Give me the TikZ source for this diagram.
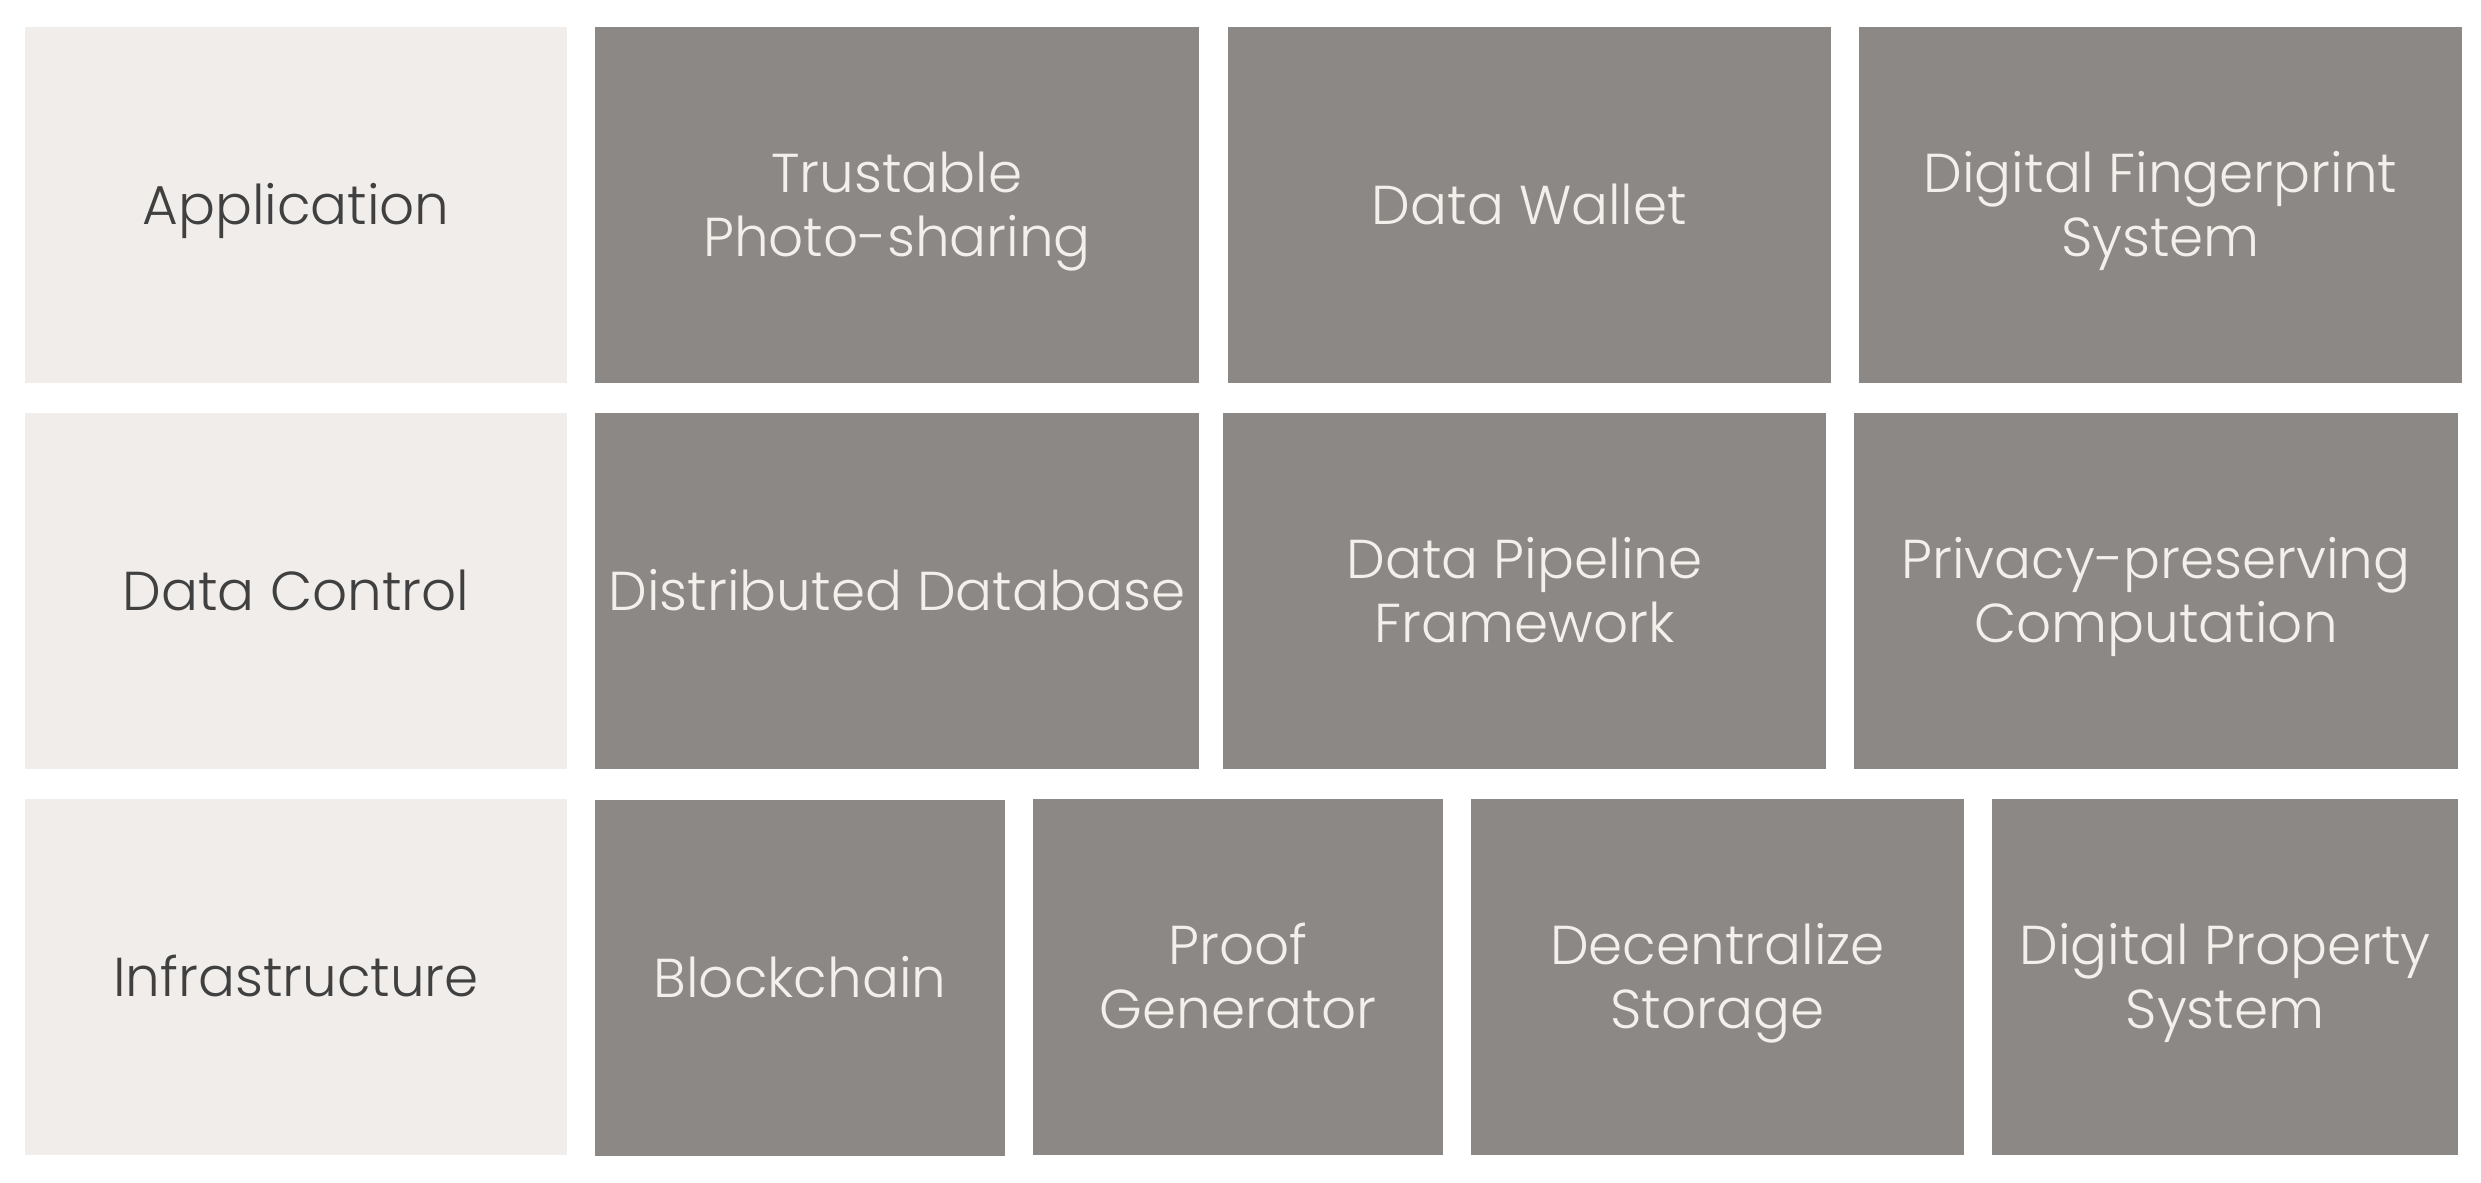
\documentclass[tikz,border=0pt]{standalone}
\usepackage{fontspec}
\setmainfont{Poppins}[UprightFont=* Light]
\definecolor{lightbox}{HTML}{F0EDEA}
\definecolor{darkbox}{HTML}{8C8885}
\definecolor{darktext}{HTML}{404040}
\definecolor{lighttext}{HTML}{F3EFEB}
\tikzset{
  base/.style={rectangle, inner sep=0pt, outer sep=0pt, font=\fontsize{13.7}{16}\selectfont},
  layerbox/.style={base, fill=lightbox, text=darktext},
  compbox/.style={base, fill=darkbox, text=lighttext},
}
\newcommand\blk[7]{%
  \node[#6, minimum width={(#4-#2)*0.25pt}, minimum height={(#5-#3)*0.25pt}]
    (#1) at ({(#2+#4)/2},{(#3+#5)/2})
    {\raisebox{-1.6pt}[\height][\depth]{\begin{tabular}{@{}c@{}}#7\end{tabular}}};}
\begin{document}
\begin{tikzpicture}[x=0.25pt,y=-0.25pt]
\fill[white] (0,0) rectangle (2481,1182);
\useasboundingbox (0,0) rectangle (2481,1182);
% row 1
\blk{app}{25}{27}{567}{383}{layerbox}{Application}
\blk{photo}{595}{27}{1199}{383}{compbox}{Trustable\\Photo-sharing}
\blk{wallet}{1228}{27}{1831}{383}{compbox}{Data Wallet}
\blk{finger}{1859}{27}{2462}{383}{compbox}{Digital Fingerprint\\System}
% row 2
\blk{ctrl}{25}{413}{567}{769}{layerbox}{Data Control}
\blk{ddb}{595}{413}{1199}{769}{compbox}{Distributed Database}
\blk{pipe}{1223}{413}{1826}{769}{compbox}{Data Pipeline\\Framework}
\blk{priv}{1854}{413}{2458}{769}{compbox}{Privacy-preserving\\Computation}
% row 3
\blk{infra}{25}{799}{567}{1155}{layerbox}{Infrastructure}
\blk{chain}{595}{800}{1005}{1156}{compbox}{Blockchain}
\blk{proof}{1033}{799}{1443}{1155}{compbox}{Proof\\Generator}
\blk{store}{1471}{799}{1964}{1155}{compbox}{Decentralize\\Storage}
\blk{prop}{1992}{799}{2458}{1155}{compbox}{Digital Property\\System}
\end{tikzpicture}
\end{document}
